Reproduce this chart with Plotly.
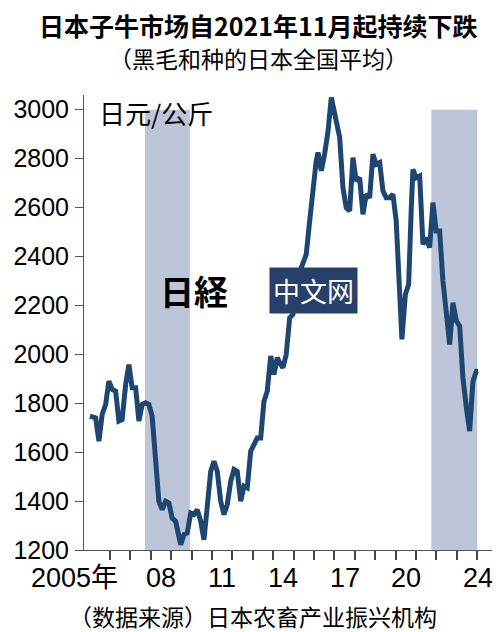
import plotly.graph_objects as go

# monthly-ish readings of the calf price (yen/kg)
years = [2005.02, 2005.30, 2005.46, 2005.62, 2005.79, 2005.95, 2006.11, 2006.28, 2006.44, 2006.60,
         2006.77, 2006.93, 2007.09, 2007.26, 2007.42, 2007.58, 2007.75, 2007.91, 2008.07, 2008.24,
         2008.40, 2008.56, 2008.73, 2008.89, 2009.05, 2009.22, 2009.47, 2009.63, 2009.79, 2009.96,
         2010.12, 2010.28, 2010.45, 2010.61, 2010.77, 2010.94, 2011.10, 2011.26, 2011.43, 2011.59,
         2011.75, 2011.92, 2012.08, 2012.24, 2012.41, 2012.57, 2012.73, 2012.90, 2013.06, 2013.22,
         2013.39, 2013.55, 2013.71, 2013.88, 2014.04, 2014.20, 2014.37, 2014.48, 2014.64, 2014.81,
         2014.97, 2015.13, 2015.38, 2015.62, 2015.79, 2015.95, 2016.11, 2016.20, 2016.36, 2016.52,
         2016.69, 2016.85, 2017.01, 2017.26, 2017.42, 2017.58, 2017.75, 2017.91, 2018.07, 2018.24,
         2018.40, 2018.56, 2018.73, 2018.89, 2019.05, 2019.22, 2019.38, 2019.54, 2019.71, 2019.87,
         2020.03, 2020.20, 2020.31, 2020.48, 2020.64, 2020.77, 2020.85, 2021.01, 2021.18, 2021.34,
         2021.50, 2021.67, 2021.83, 2021.99, 2022.16, 2022.32, 2022.49, 2022.65, 2022.81, 2022.98,
         2023.14, 2023.30, 2023.47, 2023.63, 2023.79, 2023.96, 2024.04]
price = [1747, 1740, 1645, 1754, 1795, 1890, 1856, 1849, 1727, 1733,
         1876, 1958, 1863, 1863, 1727, 1795, 1802, 1795, 1747, 1590,
         1399, 1365, 1399, 1392, 1331, 1317, 1222, 1263, 1270, 1351,
         1345, 1365, 1317, 1242, 1399, 1522, 1563, 1522, 1399, 1345,
         1385, 1481, 1529, 1522, 1399, 1461, 1454, 1604, 1631, 1658,
         1658, 1808, 1849, 1993, 1917, 1986, 1958, 1945, 1999, 2149,
         2163, 2272, 2354, 2408, 2545, 2681, 2791, 2825, 2750, 2818,
         2913, 3050, 2981, 2886, 2681, 2599, 2586, 2804, 2709, 2722,
         2572, 2654, 2640, 2818, 2777, 2784, 2668, 2640, 2640, 2654,
         2545, 2272, 2061, 2245, 2286, 2599, 2756, 2722, 2729, 2449,
         2477, 2436, 2620, 2504, 2504, 2300, 2136, 2040, 2211, 2136,
         2115, 1904, 1781, 1686, 1890, 1931, 1931]

shaded = [(2007.72, 2009.92), (2021.75, 2024.0)]
tick_years = [2005, 2008, 2011, 2014, 2017, 2020, 2024]
tick_text = ["2005年", "08", "11", "14", "17", "20", "24"]
y_ticks = [1200, 1400, 1600, 1800, 2000, 2200, 2400, 2600, 2800, 3000]
year_marks = list(range(2006, 2025))

font = "Noto Sans CJK SC"
num_font = "Liberation Sans, Noto Sans CJK SC"
fig = go.Figure()

for a, b in shaded:
    fig.add_shape(type="rect", x0=a, x1=b, y0=1200, y1=3000, xref="x", yref="y",
                  fillcolor="#bcc6d8", line_width=0, layer="below")

fig.add_trace(go.Scatter(x=years, y=price, mode="lines",
                         line=dict(color="#1f4670", width=5), hoverinfo="skip"))

fig.update_layout(
    width=500, height=632, showlegend=False,
    margin=dict(l=76, r=11, t=87, b=90),
    plot_bgcolor="white", paper_bgcolor="white",
    font=dict(family=font, color="black"),
    xaxis=dict(range=[2004.73, 2024.97], tickvals=year_marks, ticktext=[" "] * len(year_marks),
               ticks="outside", ticklen=9, tickwidth=1.5, tickcolor="#444", automargin=False,
               showgrid=False, zeroline=False, showline=True, linecolor="#555"),
    yaxis=dict(range=[1200, 3060], tickvals=y_ticks, ticks="outside", ticklen=8, tickcolor="#555",
               showgrid=False, zeroline=False, showline=True, linecolor="#555", automargin=False,
               ticklabelstandoff=1, tickfont=dict(size=25, family=num_font)),
)

# year labels sit in the middle of each year
for yr, txt in zip(tick_years, tick_text):
    first = txt.endswith("年")
    fig.add_annotation(text=txt, x=yr + 0.5, y=-0.025, xref="x", yref="paper", yanchor="top",
                       xanchor="right" if first else "center",
                       xshift=20 if first else (-9 if yr == 2024 else 0),
                       showarrow=False, font=dict(size=27, family=num_font))

notes = [
    ("<b>日本子牛市场自2021年11月起持续下跌</b>", 250, 17, 25),
    ("（黑毛和种的日本全国平均）", 250, 50, 23),
    ("（数据来源）日本农畜产业振兴机构", 245, 608, 23),
]
for t, px, py, sz in notes:
    fig.add_annotation(text=t, x=(px - 76) / 413, y=1 - (py - 87) / 455, xref="paper", yref="paper",
                       xanchor="center", yanchor="middle", showarrow=False, font=dict(size=sz))
fig.add_annotation(text="日元/公斤", x=2005.35, y=2990, xref="x", yref="y", xanchor="left",
                   yanchor="middle", showarrow=False, font=dict(size=26))
fig.add_annotation(text="<b>日経</b>", x=2010.1, y=2260, xref="x", yref="y", showarrow=False,
                   font=dict(size=34, family="Noto Sans CJK JP"))
fig.add_annotation(text="中文网", x=2016.0, y=2260, xref="x", yref="y", showarrow=False,
                   bgcolor="#27406a", font=dict(size=27, color="white"), borderpad=3)

fig.write_html("out.html")
